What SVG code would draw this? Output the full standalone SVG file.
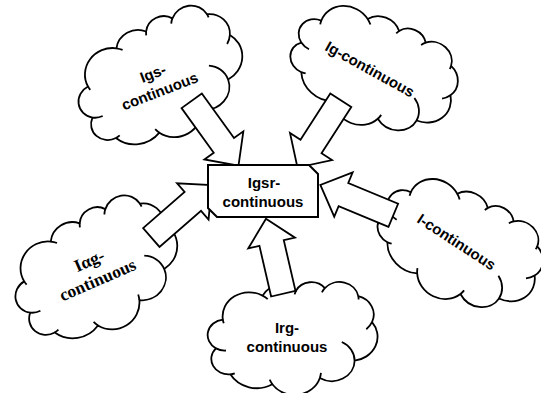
<svg xmlns="http://www.w3.org/2000/svg" xmlns:xlink="http://www.w3.org/1999/xlink" width="541" height="393" viewBox="0 0 541 393">
<style>
.cl{fill:#fff;stroke:#000;stroke-width:1.8;vector-effect:non-scaling-stroke;stroke-linejoin:round}
.cu{fill:none;stroke:#000;stroke-width:1.8;vector-effect:non-scaling-stroke}
.ar{fill:#fff;stroke:#000;stroke-width:1.8;stroke-linejoin:miter}
.bx{fill:#fff;stroke:#000;stroke-width:2}
.t{font-family:"Liberation Sans",Arial,sans-serif;font-weight:bold;font-size:15px;text-anchor:middle;fill:#000}
.ts{font-family:"Liberation Serif","Times New Roman",serif;font-weight:bold;font-size:17.5px;text-anchor:middle;fill:#000}
</style>
<defs>
<g id="cloud">
<path class="cl" d="M9.03,33.26 A15.63,21.27 0 0 1 32.41,12.02 A12.34,16.82 0 0 1 52.03,7.82 A10.10,13.76 0 0 1 69.05,5.46 A11.24,15.27 0 0 1 88.71,12.56 A12.34,16.84 0 0 1 96.78,35.49 A15.68,21.34 0 0 1 86.55,69.63 A13.39,18.21 0 0 1 66.08,84.91 A15.63,21.33 0 0 1 38.15,90.51 A17.87,24.41 0 0 1 13.45,81.70 A10.09,13.70 0 0 1 4.96,58.73 A10.06,13.76 0 0 1 9.03,33.26 Z"/>
<path class="cu" d="M10.86,60.60 A10.06,13.76 0 0 1 5.00,58.75 M16.04,80.78 A10.09,13.70 0 0 1 13.47,81.67 M38.14,90.49 A15.63,21.33 0 0 1 36.60,86.46 M66.73,80.44 A15.63,21.33 0 0 1 66.11,84.86 M79.00,53.13 A13.39,18.21 0 0 1 86.53,69.65 M96.75,35.54 A12.34,16.84 0 0 1 93.40,41.74 M88.71,12.56 A11.24,15.27 0 0 1 88.89,15.49 M67.31,9.15 A11.24,15.27 0 0 1 69.03,5.42 M51.25,10.93 A10.10,13.76 0 0 1 52.08,7.71 M32.41,12.02 A15.63,21.27 0 0 1 35.41,15.14 M9.55,36.55 A15.63,21.27 0 0 1 9.03,33.26"/>
</g>
</defs>

<g id="node-igs">
<g transform="translate(161,80) rotate(-21)"><use xlink:href="#cloud" href="#cloud" transform="translate(-86,-60) scale(1.72,1.2)"/></g>
<g transform="translate(155.9,81.1) rotate(-21)"><text class="t" x="0" y="-3">Igs-</text><text class="t" x="0" y="16">continuous</text></g>
</g>

<g id="node-ig">
<g transform="translate(373,71) rotate(29)"><use xlink:href="#cloud" href="#cloud" transform="translate(-85,-56.5) scale(1.7,1.13)"/></g>
<g transform="translate(370,69) rotate(29)"><text class="t" x="0" y="5.4">Ig-continuous</text></g>
</g>

<g id="node-iag">
<g transform="translate(97,272) rotate(-23.5)"><use xlink:href="#cloud" href="#cloud" transform="translate(-86,-61) scale(1.72,1.22)"/></g>
<g transform="translate(92.7,268.7) rotate(-23.5)"><text class="ts" x="0" y="-3">Iαg-</text><text class="ts" x="0" y="18">continuous</text></g>
</g>

<g id="node-i">
<g transform="translate(459,246) rotate(33)"><use xlink:href="#cloud" href="#cloud" transform="translate(-85,-56.5) scale(1.7,1.13)"/></g>
<g transform="translate(456.7,241.7) rotate(33)"><text class="t" x="0" y="5.4">I-continuous</text></g>
</g>

<g id="node-irg">
<g transform="translate(292.5,338.5)"><use xlink:href="#cloud" href="#cloud" transform="translate(-85,-56.5) scale(1.7,1.13)"/></g>
<text class="t" x="287" y="333">Irg-</text><text class="t" x="287" y="352">continuous</text>
</g>

<g id="connectors">
<polygon class="ar" transform="translate(191.7,100.8) rotate(54.2)" points="0,-12.5 55,-12.5 55,-24 80,0 55,24 55,12.5 0,12.5"/>
<polygon class="ar" transform="translate(340.8,100.3) rotate(122.8)" points="0,-12.5 55,-12.5 55,-25 80,0 55,25 55,12.5 0,12.5"/>
<polygon class="ar" transform="translate(151.3,237.5) rotate(-41)" points="0,-12.5 55,-12.5 55,-24 80,0 55,24 55,12.5 0,12.5"/>
<polygon class="ar" transform="translate(393.3,215.3) rotate(202.6)" points="0,-12.5 54,-12.5 54,-24 79,0 54,24 54,12.5 0,12.5"/>
<polygon class="ar" transform="translate(283.3,293.7) rotate(-103)" points="0,-12.5 52,-12.5 52,-24 77,0 52,24 52,12.5 0,12.5"/>
</g>

<g id="node-igsr">
<path class="bx" d="M208,165 H309 L318,174 V217 H217 L208,208 Z"/>
<text class="t" x="264" y="188">Igsr-</text>
<text class="t" x="263" y="207">continuous</text>
</g>
</svg>
